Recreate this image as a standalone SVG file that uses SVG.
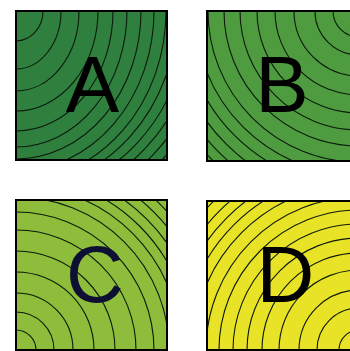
<svg xmlns="http://www.w3.org/2000/svg" width="350" height="351" viewBox="0 0 350 351">
<style>
.ring{fill:none;stroke:#0c1a0c;stroke-width:1.1}
.frame{fill:none;stroke:#000;stroke-width:2}
.lbl{font-family:"Liberation Sans",Arial,sans-serif;font-size:80px;text-anchor:middle}
</style>
<defs>
<clipPath id="cA"><rect x="16" y="11" width="151" height="149"/></clipPath>
<clipPath id="cB"><rect x="207" y="11" width="152" height="150"/></clipPath>
<clipPath id="cC"><rect x="16" y="200" width="151" height="150"/></clipPath>
<clipPath id="cD"><rect x="207" y="201" width="152" height="149"/></clipPath>
</defs>
<rect width="350" height="351" fill="#fff"/>
<g id="A">
<rect x="16" y="11" width="151" height="149" fill="#2f7f3e"/>
<g clip-path="url(#cA)">
<ellipse class="ring" cx="16" cy="11" rx="27" ry="30"/>
<ellipse class="ring" cx="16" cy="11" rx="45" ry="58"/>
<ellipse class="ring" cx="16" cy="11" rx="63" ry="80"/>
<ellipse class="ring" cx="16" cy="11" rx="82" ry="100"/>
<ellipse class="ring" cx="16" cy="11" rx="97" ry="120"/>
<ellipse class="ring" cx="16" cy="11" rx="111" ry="136"/>
<ellipse class="ring" cx="16" cy="11" rx="125" ry="148"/>
<ellipse class="ring" cx="16" cy="11" rx="138" ry="160"/>
<ellipse class="ring" cx="16" cy="11" rx="150" ry="170"/>
<ellipse class="ring" cx="16" cy="11" rx="161" ry="178"/>
<ellipse class="ring" cx="16" cy="11" rx="172" ry="186"/>
<ellipse class="ring" cx="16" cy="11" rx="183" ry="194"/>
<ellipse class="ring" cx="16" cy="11" rx="194" ry="203"/>
<ellipse class="ring" cx="16" cy="11" rx="205" ry="212"/>
<ellipse class="ring" cx="16" cy="11" rx="216" ry="221"/>
</g>
<rect class="frame" x="16" y="11" width="151" height="149"/>
<text class="lbl" x="92.5" y="112">A</text>
</g>
<g id="B">
<rect x="207" y="11" width="152" height="150" fill="#4e9c3f"/>
<g clip-path="url(#cB)">
<circle class="ring" cx="359" cy="11" r="26"/>
<circle class="ring" cx="359" cy="11" r="44"/>
<circle class="ring" cx="359" cy="11" r="65"/>
<circle class="ring" cx="359" cy="11" r="84"/>
<circle class="ring" cx="359" cy="11" r="102"/>
<circle class="ring" cx="359" cy="11" r="119"/>
<circle class="ring" cx="359" cy="11" r="135"/>
<circle class="ring" cx="359" cy="11" r="151"/>
<circle class="ring" cx="359" cy="11" r="164"/>
<circle class="ring" cx="359" cy="11" r="176"/>
<circle class="ring" cx="359" cy="11" r="188"/>
<circle class="ring" cx="359" cy="11" r="199"/>
<circle class="ring" cx="359" cy="11" r="209"/>
<circle class="ring" cx="359" cy="11" r="219"/>
</g>
<rect class="frame" x="207" y="11" width="152" height="150"/>
<text class="lbl" x="282" y="112">B</text>
</g>
<g id="C">
<rect x="16" y="200" width="151" height="150" fill="#8dbd3b"/>
<g clip-path="url(#cC)">
<circle class="ring" cx="16" cy="350" r="20"/>
<circle class="ring" cx="16" cy="350" r="38"/>
<circle class="ring" cx="16" cy="350" r="57"/>
<circle class="ring" cx="16" cy="350" r="78"/>
<circle class="ring" cx="16" cy="350" r="99"/>
<circle class="ring" cx="16" cy="350" r="120"/>
<circle class="ring" cx="16" cy="350" r="138"/>
<circle class="ring" cx="16" cy="350" r="153"/>
<circle class="ring" cx="16" cy="350" r="165"/>
<circle class="ring" cx="16" cy="350" r="175"/>
<circle class="ring" cx="16" cy="350" r="185"/>
<circle class="ring" cx="16" cy="350" r="195"/>
<circle class="ring" cx="16" cy="350" r="205"/>
<circle class="ring" cx="16" cy="350" r="215"/>
</g>
<rect class="frame" x="16" y="200" width="151" height="150"/>
<text class="lbl" x="95" y="302" fill="#0d1033">C</text>
</g>
<g id="D">
<rect x="207" y="201" width="152" height="149" fill="#e9e327"/>
<g clip-path="url(#cD)">
<circle class="ring" cx="359" cy="350" r="20"/>
<circle class="ring" cx="359" cy="350" r="42"/>
<circle class="ring" cx="359" cy="350" r="60"/>
<circle class="ring" cx="359" cy="350" r="80"/>
<circle class="ring" cx="359" cy="350" r="97"/>
<circle class="ring" cx="359" cy="350" r="112"/>
<circle class="ring" cx="359" cy="350" r="126"/>
<circle class="ring" cx="359" cy="350" r="140"/>
<circle class="ring" cx="359" cy="350" r="153"/>
<circle class="ring" cx="359" cy="350" r="166"/>
<circle class="ring" cx="359" cy="350" r="177"/>
<circle class="ring" cx="359" cy="350" r="187"/>
<circle class="ring" cx="359" cy="350" r="197"/>
<circle class="ring" cx="359" cy="350" r="208"/>
<circle class="ring" cx="359" cy="350" r="218"/>
</g>
<rect class="frame" x="207" y="201" width="152" height="149"/>
<text class="lbl" x="285.5" y="302">D</text>
</g>
</svg>
